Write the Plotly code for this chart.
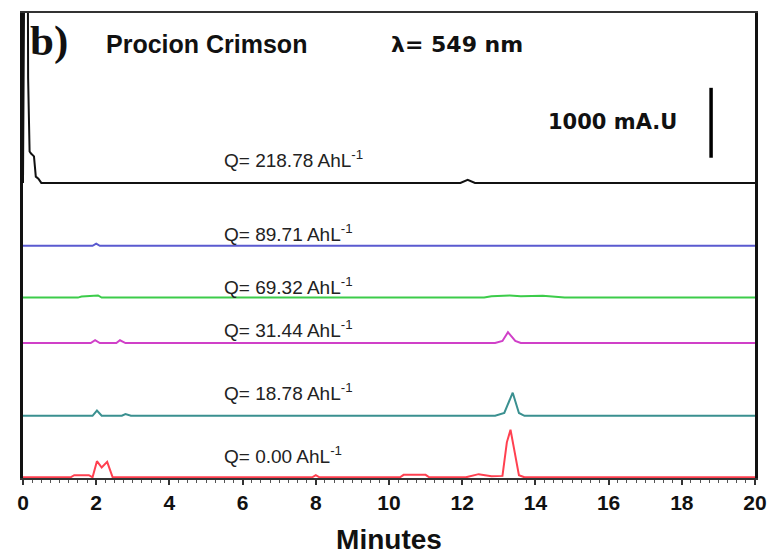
import plotly.graph_objects as go

# ---- data (minutes, mA.U above each trace's own baseline) ----
labels = ["Q= 218.78 AhL<sup>-1</sup>", "Q= 89.71 AhL<sup>-1</sup>", "Q= 69.32 AhL<sup>-1</sup>",
          "Q= 31.44 AhL<sup>-1</sup>", "Q= 18.78 AhL<sup>-1</sup>", "Q= 0.00 AhL<sup>-1</sup>"]
colors = ["#111111", "#5a5ad0", "#3ccc4a", "#d040c8", "#3a9090", "#ff4050"]
offsets = [4220, 3320, 2580, 1930, 890, 10]
label_y = [4560, 3510, 2740, 2130, 1230, 330]

black_x = [0, 0.03, 0.06, 0.1, 0.14, 0.18, 0.22, 0.3, 0.35, 0.42, 0.5, 11.95, 12.15, 12.35, 20]
black_y = [0, 2500, 9000, 9000, 1500, 450, 420, 380, 90, 60, 0, 0, 45, 0, 0]
blue_x = [0, 1.9, 2.0, 2.1, 20]
blue_y = [0, 0, 30, 0, 0]
green_x = [0, 1.5, 1.6, 1.95, 2.05, 2.15, 12.6, 12.8, 13.3, 13.6, 14.2, 14.8, 20]
green_y = [0, 0, 15, 20, 30, 0, 0, 20, 30, 20, 25, 0, 0]
mag_x = [0, 1.85, 1.97, 2.1, 2.55, 2.65, 2.8, 12.9, 13.1, 13.25, 13.45, 13.6, 20]
mag_y = [0, 0, 40, 0, 0, 40, 0, 0, 30, 155, 30, 0, 0]
teal_x = [0, 1.9, 2.02, 2.15, 2.7, 2.8, 2.95, 12.9, 13.15, 13.38, 13.55, 13.7, 20]
teal_y = [0, 0, 75, 0, 0, 25, 0, 0, 40, 330, 40, 0, 0]
red_x = [0, 1.3, 1.4, 1.8, 1.9, 2.02, 2.15, 2.3, 2.45, 7.9, 8.0, 8.1, 10.3, 10.4, 11.0, 11.1,
         12.1, 12.45, 12.8, 13.1, 13.22, 13.32, 13.42, 13.55, 13.7, 20]
red_y = [0, 0, 30, 30, 0, 230, 140, 220, 0, 0, 30, 0, 0, 35, 35, 0,
         0, 45, 15, 20, 500, 680, 400, 30, 0, 0]

series_x = [black_x, blue_x, green_x, mag_x, teal_x, red_x]
series_y = [black_y, blue_y, green_y, mag_y, teal_y, red_y]

scale_bar = 1000  # mA.U
x_ticks = list(range(0, 21, 2))

fig = go.Figure()
for xs, ys, c, off in zip(series_x, series_y, colors, offsets):
    fig.add_trace(go.Scatter(x=xs, y=[v + off for v in ys], mode="lines",
                             line=dict(color=c, width=2), showlegend=False,
                             hoverinfo="skip", cliponaxis=True))

# scale bar
fig.add_trace(go.Scatter(x=[18.8, 18.8], y=[4580, 4580 + scale_bar], mode="lines",
                         line=dict(color="black", width=3.5), showlegend=False))

for lab, ly in zip(labels, label_y):
    fig.add_annotation(x=5.45, y=ly, xref="x", yref="y", text=lab, showarrow=False,
                       xanchor="left", yanchor="middle",
                       font=dict(family="Liberation Sans, Arial", size=19, color="#222"))

fig.add_annotation(x=0.007, y=0.94, xref="paper", yref="paper", text="<b>b)</b>",
                   showarrow=False, xanchor="left", yanchor="middle",
                   font=dict(family="Liberation Serif, serif", size=43, color="#111"))
fig.add_annotation(x=0.111, y=0.933, xref="paper", yref="paper", text="<b>Procion Crimson</b>",
                   showarrow=False, xanchor="left", yanchor="middle",
                   font=dict(family="Liberation Sans, Arial", size=25, color="#111"))
fig.add_annotation(x=0.500, y=0.933, xref="paper", yref="paper", text="<b>λ= 549 nm</b>",
                   showarrow=False, xanchor="left", yanchor="middle",
                   font=dict(family="DejaVu Sans", size=22, color="#111"))
fig.add_annotation(x=0.714, y=0.766, xref="paper", yref="paper", text="<b>1000 mA.U</b>",
                   showarrow=False, xanchor="left", yanchor="middle",
                   font=dict(family="DejaVu Sans", size=21, color="#111"))

fig.update_layout(
    width=770, height=555,
    margin=dict(l=23, r=15, t=13, b=77),
    paper_bgcolor="white", plot_bgcolor="white",
    xaxis=dict(range=[0, 20], tickvals=x_ticks, ticktext=["<b>%d</b>" % t for t in x_ticks],
               automargin=False,
               showgrid=False, zeroline=False, showline=True, linecolor="#333", linewidth=2,
               mirror=True, ticks="outside", ticklen=5, tickwidth=2, tickcolor="#333",
               minor=dict(dtick=0.25, ticks="outside", ticklen=3, tickcolor="#555", tickwidth=1),
               tickfont=dict(family="Liberation Sans, Arial", size=21, color="#111"),
               title=dict(text="<b>Minutes</b>", standoff=17,
                          font=dict(family="Liberation Sans, Arial", size=28, color="#111"))),
    yaxis=dict(range=[0, 6650], showticklabels=False, ticks="", showgrid=False, automargin=False,
               zeroline=False, showline=True, linecolor="#111", linewidth=3, mirror=True),
)

fig.write_html("out.html")
